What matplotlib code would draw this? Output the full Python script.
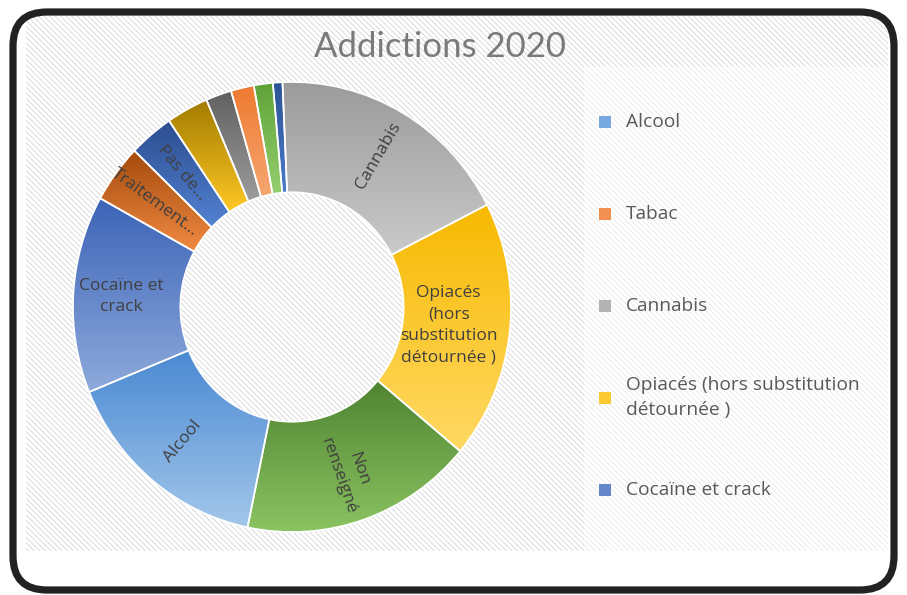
import textwrap

import numpy as np
import matplotlib
matplotlib.use("Agg")
import matplotlib.pyplot as plt
from matplotlib.colors import to_rgb
from matplotlib.patches import FancyBboxPatch, Rectangle

# slices in the order they are drawn, clockwise from the top
slice_names = [
    "Cannabis",
    "Opiacés (hors substitution détournée )",
    "Non renseigné",
    "Alcool",
    "Cocaïne et crack",
    "Traitement…",
    "Pas de…",
    "Autre (a)",
    "Autre (b)",
    "Tabac",
    "Autre (c)",
    "Autre (d)",
]
# shares in %
slice_values = [18.2, 18.6, 17.2, 15.6, 14.2, 4.2, 3.3, 3.1, 1.9, 1.7, 1.4, 0.7]
# which slices carry a label inside the ring
slice_shown = [True, True, True, True, True, True, True,
               False, False, False, False, False]
# gradient colours, top -> bottom
slice_top = ["#9b9b9b", "#f7b900", "#4f8331", "#4a89d3", "#3c63b7", "#a54b0d",
             "#2c4d90", "#a17a00", "#606060", "#ee7a30", "#5fa238", "#2d5596"]
slice_bottom = ["#cacaca", "#ffd964", "#8bc462", "#a3c7ea", "#8eaadc", "#f08a42",
                "#5282d2", "#ffc824", "#9c9c9c", "#f6a672", "#94cf6e", "#4b79c9"]

legend_names = ["Alcool", "Tabac", "Cannabis",
                "Opiacés (hors substitution détournée )", "Cocaïne et crack"]

title = "Addictions 2020"

W, H = 907, 595
HOLE = 0.51
TEXT = "#404040"
FONT = ["Open Sans", "DejaVu Sans"]

plt.rcParams["hatch.linewidth"] = 0.6
fig = plt.figure(figsize=(W / 100, H / 100), dpi=100, facecolor="white")

# background, in pixel coordinates
bg = fig.add_axes([0, 0, 1, 1], zorder=0)
bg.set_xlim(0, W)
bg.set_ylim(H, 0)
bg.axis("off")

bg.add_patch(Rectangle((26, 16), 862, 535, facecolor="white",
                       edgecolor="#d4d4d4", hatch="\\" * 6, lw=0))
bg.add_patch(Rectangle((584, 67), 304, 484, facecolor="white",
                       edgecolor="#e8e8e8", hatch="\\" * 6, lw=0))
bg.add_patch(FancyBboxPatch((13, 12), 881, 578,
                            boxstyle="round,pad=0,rounding_size=34",
                            facecolor="none", edgecolor="#222222", lw=5.2))

bg.text(440, 47, title, ha="center", va="center", fontsize=25,
        color="#7a7a7a", family=["Lato", "DejaVu Sans"])

# donut (the source is slightly taller than wide)
cx, cy, RX, RY = 292, 307, 219, 225
span = 250
ax = fig.add_axes([(cx - span) / W, (H - cy - span) / H, 2 * span / W, 2 * span / H],
                  zorder=1)
ax.axis("off")

wedges, _ = ax.pie(slice_values, startangle=92.5, counterclock=False,
                   radius=1, wedgeprops=dict(width=1 - HOLE, edgecolor="white",
                                             linewidth=1.2, facecolor="none"))

for w, top, bottom in zip(wedges, slice_top, slice_bottom):
    x0, y0, x1, y1 = w.get_path().get_extents().extents
    t = np.linspace(0, 1, 200)[:, None, None]
    grad = (1 - t) * np.array(to_rgb(top)) + t * np.array(to_rgb(bottom))
    im = ax.imshow(grad, extent=(x0, x1, y0, y1), origin="upper",
                   aspect="auto", zorder=1, interpolation="bilinear")
    im.set_clip_path(w)
    w.set_zorder(2)

ax.set_aspect("auto")
ax.set_xlim(-span / RX, span / RX)
ax.set_ylim(-span / RY, span / RY)

horizontal = {"Opiacés (hors substitution détournée )", "Cocaïne et crack"}
for w, name, shown in zip(wedges, slice_names, slice_shown):
    if not shown:
        continue
    label = textwrap.fill(name, 12)
    mid = 0.5 * (w.theta1 + w.theta2)
    if name in horizontal:
        # wider blocks sit a bit further in
        r = 0.84 - 0.03 * label.count("\n") - 0.03
        rot = 0
    else:
        r = 0.78
        rot = (mid + 180) % 360 - 180
        if rot > 90:
            rot -= 180
        elif rot < -90:
            rot += 180
    x, y = r * np.cos(np.radians(mid)), r * np.sin(np.radians(mid))
    ax.text(x, y, label, ha="center", va="center",
            rotation=rot, rotation_mode="anchor", multialignment="center",
            fontsize=12.5, color=TEXT, family=FONT, zorder=3, linespacing=1.45)

# legend on the right
ys = np.linspace(122, 490, len(legend_names))
for name, y in zip(legend_names, ys):
    i = slice_names.index(name)
    c = 0.5 * (np.array(to_rgb(slice_top[i])) + np.array(to_rgb(slice_bottom[i])))
    bg.scatter([605], [y], marker="s", s=80, color=c, zorder=3, linewidths=0)
    bg.text(626, y, textwrap.fill(name, 26), ha="left", va="center",
            fontsize=13.8, color="#595959", family=FONT,
            linespacing=1.5, zorder=3)

fig.savefig("out.png", dpi=100, facecolor="white")
